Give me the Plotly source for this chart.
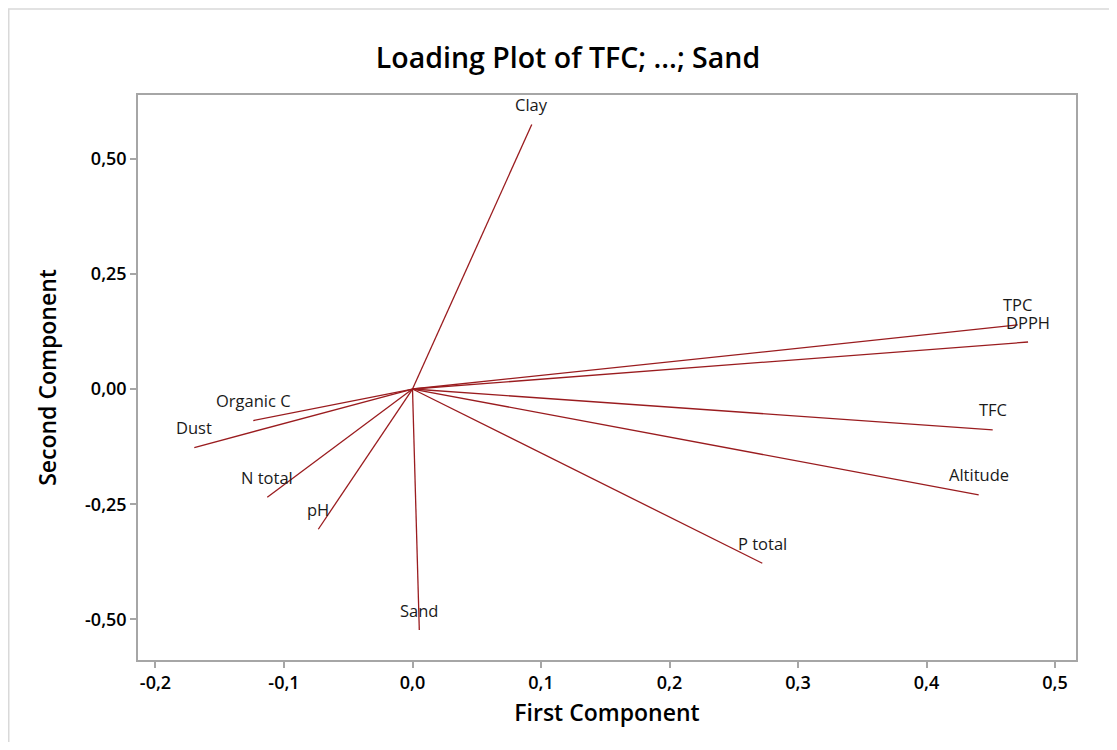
import plotly.graph_objects as go

variables = ["TFC", "TPC", "DPPH", "Altitude", "P total", "Clay", "Sand", "pH", "N total", "Dust", "Organic C"]
pc1 = [0.4515, 0.4710, 0.4790, 0.4406, 0.2722, 0.0928, 0.0053, -0.0733, -0.1130, -0.1698, -0.1239]
pc2 = [-0.0886, 0.1390, 0.1020, -0.2298, -0.3780, 0.5740, -0.5230, -0.3043, -0.2348, -0.1270, -0.0684]

x_ticks = [-0.2, -0.1, 0.0, 0.1, 0.2, 0.3, 0.4, 0.5]
x_tick_text = ["-0,2", "-0,1", "0,0", "0,1", "0,2", "0,3", "0,4", "0,5"]
y_ticks = [-0.5, -0.25, 0.0, 0.25, 0.5]
y_tick_text = ["-0,50", "-0,25", "0,00", "0,25", "0,50"]

line_color = "#9a1c1f"
frame_color = "#a6a6a6"

lx, ly = [], []
for a, b in zip(pc1, pc2):
    lx += [0, a, None]
    ly += [0, b, None]

W, H = 1101, 734
ML, MR, MT, MB = 130, 33, 87, 82

fig = go.Figure()
fig.add_trace(go.Scatter(x=lx, y=ly, mode="lines",
                         line=dict(color=line_color, width=1.3),
                         hoverinfo="skip", showlegend=False))

for name, a, b in zip(variables, pc1, pc2):
    fig.add_annotation(x=a, y=b, text=name, showarrow=False,
                       xanchor="center", yanchor="middle", yshift=20,
                       font=dict(family="Open Sans", size=16.5, color="#1a1a1a"))

base_font = "Open Sans"
fig.update_layout(
    width=W, height=H,
    paper_bgcolor="white", plot_bgcolor="white",
    margin=dict(l=ML, r=MR, t=MT, b=MB),
    title=dict(text="Loading Plot of TFC; ...; Sand", x=(568 - 8) / W, xanchor="center",
               xref="container", y=1 - 50 / H, yref="container", yanchor="middle",
               font=dict(family=base_font, size=28.5, color="black", weight=600)),
    xaxis=dict(range=[-0.2136, 0.5163], tickvals=x_ticks, ticktext=x_tick_text,
               showgrid=False, zeroline=False, showline=True, linecolor=frame_color,
               linewidth=1.5, mirror=True, ticks="outside", ticklen=6,
               tickcolor=frame_color, tickwidth=1.5,
               tickfont=dict(family=base_font, size=18, color="black", weight=600),
               title=dict(text="First Component", standoff=12,
                          font=dict(family=base_font, size=23, color="black", weight=600))),
    yaxis=dict(range=[-0.588, 0.638], tickvals=y_ticks, ticktext=y_tick_text,
               showgrid=False, zeroline=False, showline=True, linecolor=frame_color,
               linewidth=1.5, mirror=True, ticks="outside", ticklen=6,
               tickcolor=frame_color, tickwidth=1.5,
               tickfont=dict(family=base_font, size=18, color="black", weight=600),
               title=dict(text="Second Component", standoff=22,
                          font=dict(family=base_font, size=23, color="black", weight=600))),
)

# outer graph border (top and left edges visible in reference)
pw, ph = W - ML - MR, H - MT - MB
def px_to_paper_x(px):
    return (px - ML) / pw
def px_to_paper_y(py):
    return (H - MB - py) / ph
fig.add_shape(type="line", xref="paper", yref="paper",
              x0=px_to_paper_x(0), x1=px_to_paper_x(W), y0=px_to_paper_y(1), y1=px_to_paper_y(1),
              line=dict(color="#d9d9d9", width=1.5))
fig.add_shape(type="line", xref="paper", yref="paper",
              x0=px_to_paper_x(0.75), x1=px_to_paper_x(0.75), y0=px_to_paper_y(1), y1=px_to_paper_y(H),
              line=dict(color="#d9d9d9", width=1.5))

fig.write_html("out.html")
